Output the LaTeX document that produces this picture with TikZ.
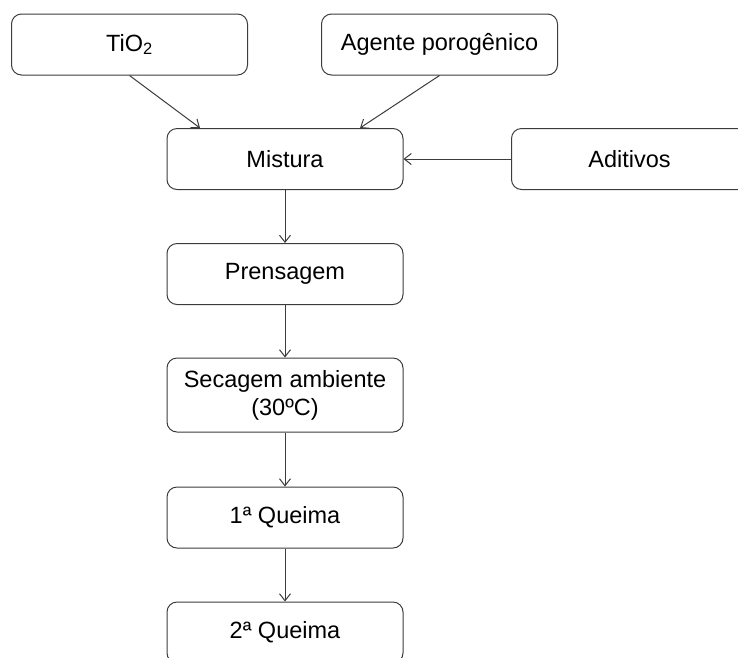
\documentclass[tikz,border=0pt]{standalone}
\usepackage{fontspec}
\setmainfont{Liberation Sans}
\usetikzlibrary{arrows.meta}
\definecolor{linegray}{HTML}{3C3C3C}
\tikzset{gbox/.style={
    rectangle,
    draw=linegray,
    line width=1pt,
    align=center,
    inner sep=0pt,
    minimum height=61pt,
    minimum width=236pt,
    font=\fontsize{23.5}{28}\selectfont
  },
  rbox/.style={gbox,rounded corners=10pt},
  tallbox/.style={rbox,minimum height=74pt},
  flow/.style={draw=linegray,line width=1pt,-{Straight Barb[length=7pt,width=11pt]}},
}
\begin{document}
\begin{tikzpicture}[x=1pt,y=-1pt]
  \useasboundingbox (0,0) rectangle (738,657);
  \node [rbox] (tio) at (129.5,44.5) {TiO\textsubscript{2}};
  \node [rbox] (agente) at (439.5,44.5) {Agente porogênico};
  \node [rbox] (mistura) at (285,159) {Mistura};
  \node [rbox] (aditivos) at (629.5,159) {Aditivos};
  \node [rbox] (prensa) at (285,274) {Prensagem};
  \node [tallbox] (secagem) at (285,395) {Secagem ambiente\\(30ºC)};
  \node [rbox] (queima1) at (285,517.5) {1ª Queima};
  \node [rbox] (queima2) at (285,632.5) {2ª Queima};
  \draw[flow] (tio.south) -- (mistura.north -| 200,0);
  \draw[flow] (agente.south) -- (mistura.north -| 360,0);
  \draw[flow] (aditivos) -- (mistura);
  \draw[flow] (mistura) -- (prensa);
  \draw[flow] (prensa) -- (secagem);
  \draw[flow] (secagem) -- (queima1);
  \draw[flow] (queima1) -- (queima2);
\end{tikzpicture}
\end{document}
